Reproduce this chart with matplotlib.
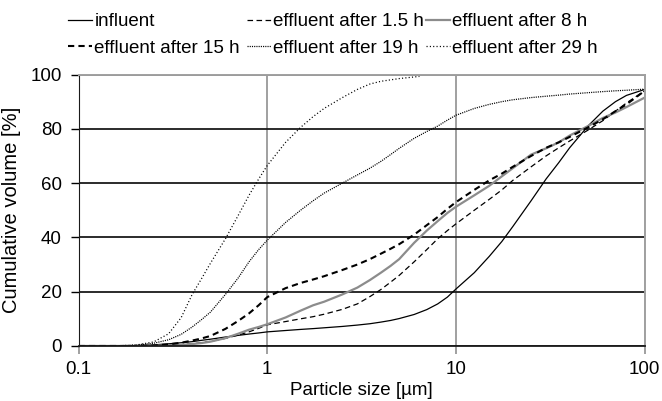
import matplotlib.pyplot as plt
from matplotlib.ticker import NullLocator

plt.rcParams['font.family'] = ['Liberation Sans', 'DejaVu Sans']
plt.rcParams['lines.scale_dashes'] = False

# particle size grid [um]
sizes = [0.1, 0.15, 0.2, 0.25, 0.3, 0.35, 0.4, 0.45, 0.5, 0.6, 0.7, 0.8, 0.9, 1,
         1.25, 1.5, 1.75, 2, 2.5, 3, 3.5, 4, 4.5, 5, 6, 7, 8, 9, 10, 12.5, 15,
         17.5, 20, 25, 30, 35, 40, 50, 60, 70, 80, 100]

influent = [0, 0, 0.1, 0.4, 0.8, 1.2, 1.6, 2.1, 2.5, 3.3, 3.9, 4.4, 4.8, 5.2,
            5.7, 6.1, 6.4, 6.7, 7.2, 7.7, 8.2, 8.8, 9.4, 10.1, 11.6, 13.4, 15.5, 18, 21, 27, 33,
            38.5, 44, 53.5, 61.5, 67.5, 73, 81, 86.5, 90, 92.3, 94.5]
eff_1_5h = [0, 0, 0, 0.1, 0.3, 0.5, 0.8, 1.2, 1.7, 2.8, 4.0, 5.2, 6.5, 7.8,
            9.0, 10.0, 10.8, 11.7, 13.5, 15.5, 18.2, 20.8, 23.5, 26, 31, 35.5, 39.5, 42.5, 45, 50, 54,
            57.5, 61, 66, 70, 73, 75.5, 79.5, 83, 86.5, 89.5, 94]
eff_8h = [0, 0, 0, 0.1, 0.2, 0.4, 0.7, 1.1, 1.6, 2.9, 4.5, 6.0, 7.0, 8,
          10.5, 13, 15, 16.3, 19, 21.5, 24.3, 27, 29.5, 32, 38, 42.5, 46, 49, 51.3, 55.5, 59,
          62.5, 65.5, 70.5, 72.8, 75, 77.5, 81, 84, 86, 88, 91.5]
eff_15h = [0, 0, 0, 0.2, 0.6, 1.2, 2, 2.8, 3.7, 6.3, 9.2, 12, 15, 18,
           21.3, 23.2, 24.5, 25.7, 28, 30, 32, 34, 35.8, 37.5, 41, 44.5, 47.5, 50.5, 53, 57.5, 61,
           63.5, 66, 70, 73, 75, 77, 80.5, 83.5, 86.5, 89, 94]
eff_19h = [0, 0, 0.3, 1, 2.3, 4.3, 7, 9.8, 12.5, 19, 25, 31, 35.5, 39,
           45.5, 50, 53.5, 56.3, 60, 63, 65.5, 68, 70.5, 72.8, 76.5, 79, 81, 83.2, 85, 87.5, 89,
           90, 90.7, 91.5, 92, 92.4, 92.8, 93.3, 93.7, 94, 94.2, 94.6]

sizes_29h = [0.1, 0.15, 0.2, 0.25, 0.3, 0.35, 0.4, 0.45, 0.5, 0.6, 0.7, 0.8, 0.9, 1,
             1.25, 1.5, 1.75, 2, 2.5, 3, 3.5, 4, 5, 6.4]
eff_29h = [0, 0, 0.3, 1.5, 4.5, 10.5, 19, 25, 30.5, 39.5, 48, 55.5, 61.5, 66.5,
           75, 80.5, 84.5, 87.5, 91.5, 94.5, 96.5, 97.5, 98.5, 99.3]

fig = plt.figure(figsize=(6.62, 4.01), dpi=100)
ax = fig.add_axes([0.1187, 0.1372, 0.8552, 0.677])

l_inf, = ax.plot(sizes, influent, color='black', lw=0.9, label='influent')
l_15, = ax.plot(sizes, eff_1_5h, color='black', lw=0.9, dashes=(4, 2.5),
                label='effluent after 1.5 h')
l_8, = ax.plot(sizes, eff_8h, color='#8c8c8c', lw=1.6, label='effluent after 8 h')
l_15h, = ax.plot(sizes, eff_15h, color='black', lw=1.5, dashes=(4.5, 3),
                 label='effluent after 15 h')
l_19, = ax.plot(sizes, eff_19h, color='black', lw=0.9, dashes=(0.8, 0.8),
                label='effluent after 19 h')
l_29, = ax.plot(sizes_29h, eff_29h, color='black', lw=0.9, dashes=(0.8, 1.6),
                label='effluent after 29 h')

ax.set_xscale('log')
ax.set_xlim(0.1, 100)
ax.set_ylim(0, 100)
ax.set_xticks([0.1, 1, 10, 100])
ax.set_xticklabels(['0.1', '1', '10', '100'])
ax.xaxis.set_minor_locator(NullLocator())
ax.set_yticks(range(0, 101, 20))
ax.tick_params(axis='both', labelsize=13.5)
ax.tick_params(axis='y', length=6, width=1, pad=6)
ax.tick_params(axis='x', length=6, width=1.2, color='#909090', pad=5)

ax.grid(axis='y', color='#1a1a1a', lw=1.3)
ax.grid(axis='x', color='#a0a0a0', lw=1.4)
ax.set_axisbelow(True)
for s in ['top', 'right']:
    ax.spines[s].set_color('#a0a0a0')
    ax.spines[s].set_linewidth(1.4)
ax.spines['left'].set_color('#1a1a1a')
ax.spines['bottom'].set_color('#1a1a1a')
ax.spines['bottom'].set_linewidth(1.3)

ax.set_xlabel('Particle size [µm]', fontsize=13.5, labelpad=3)
ax.set_ylabel('Cumulative volume [%]', fontsize=14.5, labelpad=7)

cols = [[l_inf, l_15h], [l_15, l_19], [l_8, l_29]]
col_x = [68, 247, 426]
for hs, x in zip(cols, col_x):
    leg = fig.legend(handles=hs, loc='upper left',
                     bbox_to_anchor=(x / 662, 1 - 13 / 401),
                     bbox_transform=fig.transFigure, frameon=False,
                     fontsize=13.5, handlelength=1.3, handletextpad=0.1,
                     borderpad=0, borderaxespad=0, labelspacing=0.5)

fig.savefig('out.png', dpi=100)
